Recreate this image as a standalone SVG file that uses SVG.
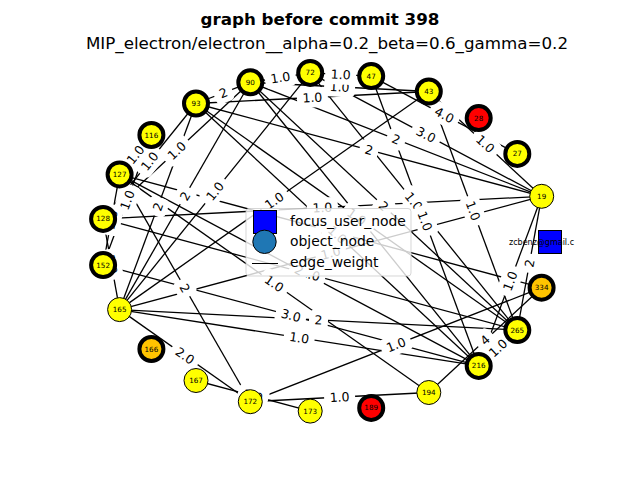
<svg xmlns="http://www.w3.org/2000/svg" xmlns:xlink="http://www.w3.org/1999/xlink" width="640" height="480" viewBox="0 0 640 480">
<style>
  .ttl { font-family: "DejaVu Sans", sans-serif; font-size: 16.7px; text-anchor: middle; fill: #000; }
  .e line { stroke: #000; stroke-width: 1.3; }
  .el text { font-family: "DejaVu Sans", sans-serif; font-size: 12.5px; text-anchor: middle; fill: #000; }
  .nd circle { stroke: #000; }
  .thick circle { stroke-width: 4; }
  .thin circle { stroke-width: 1; }
  .nd text { font-family: "DejaVu Sans", sans-serif; font-size: 7.2px; text-anchor: middle; fill: #000; }
  .y circle { fill: #ffff00; }
  .o circle { fill: #ffc400; }
  .r circle { fill: #ff0000; }
  .lg text { font-family: "DejaVu Sans", sans-serif; font-size: 13.9px; fill: #000; }
</style>
<defs>
  <rect id="b3" x="-15.5" y="-10" width="31" height="20" rx="5" fill="#fff"/>
  <rect id="b1" x="-9.5" y="-10" width="19" height="20" rx="5" fill="#fff"/>
  <clipPath id="axclip"><rect x="80" y="57.6" width="496" height="369.6"/></clipPath>
</defs>
<rect width="640" height="480" fill="#fff"/>

<text class="ttl" x="320" y="25" font-weight="bold">graph before commit 398</text>
<text class="ttl" x="327" y="49">MIP_electron/electron__alpha=0.2_beta=0.6_gamma=0.2</text>

<!-- edges -->
<g id="connectors" class="e">
  <line x1="250.3" y1="82.3" x2="310.2" y2="72.9"/>
  <line x1="310.2" y1="72.9" x2="371.2" y2="76.1"/>
  <line x1="250.3" y1="82.3" x2="428.8" y2="91.5"/>
  <line x1="196" y1="103.5" x2="428.8" y2="91.5"/>
  <line x1="196" y1="103.5" x2="250.3" y2="82.3"/>
  <line x1="371.2" y1="76.1" x2="517.3" y2="153.9"/>
  <line x1="310.2" y1="72.9" x2="541.7" y2="196.3"/>
  <line x1="428.8" y1="91.5" x2="541.7" y2="196.3"/>
  <line x1="196" y1="103.5" x2="541.7" y2="196.3"/>
  <line x1="250.3" y1="82.3" x2="541.7" y2="196.3"/>
  <line x1="310.2" y1="72.9" x2="517.3" y2="330.1"/>
  <line x1="371.2" y1="76.1" x2="478.7" y2="365.9"/>
  <line x1="428.8" y1="91.5" x2="517.3" y2="330.1"/>
  <line x1="428.8" y1="91.5" x2="119.6" y2="309.6"/>
  <line x1="310.2" y1="72.9" x2="119.6" y2="309.6"/>
  <line x1="250.3" y1="82.3" x2="103.1" y2="218.9"/>
  <line x1="151.4" y1="135" x2="119.6" y2="174.4"/>
  <line x1="196" y1="103.5" x2="103.1" y2="218.9"/>
  <line x1="196" y1="103.5" x2="119.6" y2="309.6"/>
  <line x1="250.3" y1="82.3" x2="119.6" y2="309.6"/>
  <line x1="151.4" y1="135" x2="103.1" y2="265.1"/>
  <line x1="119.6" y1="174.4" x2="103.1" y2="265.1"/>
  <line x1="103.1" y1="218.9" x2="119.6" y2="309.6"/>
  <line x1="103.1" y1="218.9" x2="541.7" y2="196.3"/>
  <line x1="103.1" y1="218.9" x2="517.3" y2="330.1"/>
  <line x1="250.3" y1="82.3" x2="517.3" y2="330.1"/>
  <line x1="119.6" y1="174.4" x2="541.6" y2="287.7"/>
  <line x1="250.3" y1="82.3" x2="478.7" y2="365.9"/>
  <line x1="119.6" y1="309.6" x2="541.7" y2="196.3"/>
  <line x1="119.6" y1="174.4" x2="428.8" y2="392.5"/>
  <line x1="103.1" y1="265.1" x2="478.7" y2="365.9"/>
  <line x1="119.6" y1="309.6" x2="517.3" y2="330.1"/>
  <line x1="119.6" y1="309.6" x2="478.7" y2="365.9"/>
  <line x1="250.3" y1="401.7" x2="541.6" y2="287.7"/>
  <line x1="119.6" y1="309.6" x2="250.3" y2="401.7"/>
  <line x1="250.3" y1="401.7" x2="428.8" y2="392.5"/>
  <line x1="541.7" y1="196.3" x2="478.7" y2="365.9"/>
  <line x1="541.7" y1="196.3" x2="517.3" y2="330.1"/>
  <line x1="541.6" y1="287.7" x2="428.8" y2="392.5"/>
  <line x1="517.3" y1="330.1" x2="478.7" y2="365.9"/>
  <line x1="119.6" y1="174.4" x2="250.3" y2="401.7"/>
  <line x1="119.6" y1="174.4" x2="478.7" y2="365.9"/>
  <line x1="196" y1="380.5" x2="310.2" y2="411.1"/>
  <line x1="196" y1="103.5" x2="517.3" y2="330.1"/>
  <line x1="196" y1="103.5" x2="478.7" y2="365.9"/>
</g>

<!-- edge weight labels, each on a white rounded box -->
<g id="edge-labels" class="el">
  <g transform="translate(280.3 77.6) rotate(-8.9)"><use href="#b3"/><text y="4.5">1.0</text></g>
  <g transform="translate(339.6 86.9) rotate(2.95)"><use href="#b3"/><text y="4.5">1.0</text></g>
  <g transform="translate(340.7 74.5) rotate(3)"><use href="#b3"/><text y="4.5">1.0</text></g>
  <g transform="translate(312.4 97.5) rotate(-2.95)"><use href="#b3"/><text y="4.5">1.0</text></g>
  <g transform="translate(223.2 92.9) rotate(-21.3)"><use href="#b1"/><text y="4.5">2</text></g>
  <g transform="translate(444.3 115) rotate(28)"><use href="#b3"/><text y="4.5">4.0</text></g>
  <g transform="translate(426 134.6) rotate(28.1)"><use href="#b3"/><text y="4.5">3.0</text></g>
  <g transform="translate(485.3 143.9) rotate(42.9)"><use href="#b3"/><text y="4.5">1.0</text></g>
  <g transform="translate(368.9 149.9) rotate(15)"><use href="#b1"/><text y="4.5">2</text></g>
  <g transform="translate(396 139.3) rotate(21.4)"><use href="#b1"/><text y="4.5">2</text></g>
  <g transform="translate(413.8 201.5) rotate(51.2)"><use href="#b3"/><text y="4.5">1.0</text></g>
  <g transform="translate(425 221) rotate(69.6)"><use href="#b3"/><text y="4.5">1.0</text></g>
  <g transform="translate(473.1 210.8) rotate(69.6)"><use href="#b3"/><text y="4.5">1.0</text></g>
  <g transform="translate(274.2 200.6) rotate(-35.2)"><use href="#b3"/><text y="4.5">1.0</text></g>
  <g transform="translate(214.9 191.3) rotate(-51.2)"><use href="#b3"/><text y="4.5">1.0</text></g>
  <g transform="translate(176.7 150.6) rotate(-42.9)"><use href="#b3"/><text y="4.5">1.0</text></g>
  <g transform="translate(135.5 154.7) rotate(-51.1)"><use href="#b3"/><text y="4.5">1.0</text></g>
  <g transform="translate(149.6 161.2) rotate(-51.2)"><use href="#b3"/><text y="4.5">1.0</text></g>
  <g transform="translate(157.8 206.6) rotate(-69.7)"><use href="#b1"/><text y="4.5">2</text></g>
  <g transform="translate(185 196) rotate(-60.1)"><use href="#b1"/><text y="4.5">2</text></g>
  <g transform="translate(127.3 200.1) rotate(-69.6)"><use href="#b3"/><text y="4.5">1.0</text></g>
  <g transform="translate(111.4 219.8) rotate(-79.7)"><use href="#b3"/><text y="4.5">1.0</text></g>
  <g transform="translate(111.4 264.3) rotate(79.7)"><use href="#b3"/><text y="4.5">1.0</text></g>
  <g transform="translate(322.4 207.6) rotate(-2.95)"><use href="#b3"/><text y="4.5">1.0</text></g>
  <g transform="translate(310.2 274.5) rotate(15)"><use href="#b3"/><text y="4.5">1.0</text></g>
  <g transform="translate(383.8 206.2) rotate(42.9)"><use href="#b1"/><text y="4.5">2</text></g>
  <g transform="translate(330.6 231.1) rotate(15)"><use href="#b3"/><text y="4.5">1.0</text></g>
  <g transform="translate(364.5 224.1) rotate(51.2)"><use href="#b1"/><text y="4.5">2</text></g>
  <g transform="translate(330.7 253) rotate(-15)"><use href="#b3"/><text y="4.5">1.0</text></g>
  <g transform="translate(274.2 283.5) rotate(35.2)"><use href="#b3"/><text y="4.5">1.0</text></g>
  <g transform="translate(290.9 315.5) rotate(15)"><use href="#b3"/><text y="4.5">3.0</text></g>
  <g transform="translate(318.5 319.9) rotate(2.95)"><use href="#b1"/><text y="4.5">2</text></g>
  <g transform="translate(299.2 337.8) rotate(8.9)"><use href="#b3"/><text y="4.5">1.0</text></g>
  <g transform="translate(396 344.7) rotate(-21.4)"><use href="#b3"/><text y="4.5">1.0</text></g>
  <g transform="translate(185 355.7) rotate(35.2)"><use href="#b3"/><text y="4.5">2.0</text></g>
  <g transform="translate(339.6 397.1) rotate(-2.95)"><use href="#b3"/><text y="4.5">1.0</text></g>
  <g transform="translate(510.2 281.1) rotate(-69.6)"><use href="#b3"/><text y="4.5">1.0</text></g>
  <g transform="translate(529.5 263.2) rotate(-79.7)"><use href="#b1"/><text y="4.5">2</text></g>
  <g transform="translate(485.2 340.1) rotate(-42.9)"><use href="#b1"/><text y="4.5">4</text></g>
  <g transform="translate(498 348) rotate(-42.8)"><use href="#b3"/><text y="4.5">1.0</text></g>
  <g transform="translate(185 288.1) rotate(60.1)"><use href="#b1"/><text y="4.5">2</text></g>
  <g transform="translate(299.2 270.2) rotate(28.1)"><use href="#b1"/><text y="4.5">2</text></g>
  <g transform="translate(253.1 395.8) rotate(15)"><use href="#b3"/><text y="4.5">1.0</text></g>
  <g transform="translate(356.7 216.8) rotate(35.2)"><use href="#b3"/><text y="4.5">1.0</text></g>
  <g transform="translate(337.4 234.7) rotate(42.9)"><use href="#b3"/><text y="4.5">1.0</text></g>
</g>

<!-- nodes -->
<g id="n-zcbenz" class="nd">
  <rect x="538.5" y="230.5" width="23" height="23" fill="#0000ff" stroke="#000" stroke-width="1"/>
  <text x="509" y="245" clip-path="url(#axclip)" style="text-anchor:start;font-size:8px">zcbenz@gmail.c</text>
</g>
<g id="n-19" class="nd thin y"><circle cx="541.7" cy="196.3" r="12"/><text x="541.7" y="198.8">19</text></g>
<g id="n-27" class="nd thick y"><circle cx="517.3" cy="153.9" r="12"/><text x="517.3" y="156.4">27</text></g>
<g id="n-28" class="nd thick r"><circle cx="478.7" cy="118.1" r="12"/><text x="478.7" y="120.6">28</text></g>
<g id="n-43" class="nd thick y"><circle cx="428.8" cy="91.5" r="12"/><text x="428.8" y="94">43</text></g>
<g id="n-47" class="nd thick y"><circle cx="371.2" cy="76.1" r="12"/><text x="371.2" y="78.6">47</text></g>
<g id="n-72" class="nd thick y"><circle cx="310.2" cy="72.9" r="12"/><text x="310.2" y="75.4">72</text></g>
<g id="n-90" class="nd thick y"><circle cx="250.3" cy="82.3" r="12"/><text x="250.3" y="84.8">90</text></g>
<g id="n-93" class="nd thick y"><circle cx="196" cy="103.5" r="12"/><text x="196" y="106">93</text></g>
<g id="n-116" class="nd thick y"><circle cx="151.4" cy="135" r="12"/><text x="151.4" y="137.5">116</text></g>
<g id="n-127" class="nd thick y"><circle cx="119.6" cy="174.4" r="12"/><text x="119.6" y="176.9">127</text></g>
<g id="n-128" class="nd thick y"><circle cx="103.1" cy="218.9" r="12"/><text x="103.1" y="221.4">128</text></g>
<g id="n-152" class="nd thick y"><circle cx="103.1" cy="265.1" r="12"/><text x="103.1" y="267.6">152</text></g>
<g id="n-165" class="nd thin y"><circle cx="119.6" cy="309.6" r="12"/><text x="119.6" y="312.1">165</text></g>
<g id="n-166" class="nd thick o"><circle cx="151.4" cy="349" r="12"/><text x="151.4" y="351.5">166</text></g>
<g id="n-167" class="nd thin y"><circle cx="196" cy="380.5" r="12"/><text x="196" y="383">167</text></g>
<g id="n-172" class="nd thin y"><circle cx="250.3" cy="401.7" r="12"/><text x="250.3" y="404.2">172</text></g>
<g id="n-173" class="nd thin y"><circle cx="310.2" cy="411.1" r="12"/><text x="310.2" y="413.6">173</text></g>
<g id="n-189" class="nd thick r"><circle cx="371.2" cy="407.9" r="12"/><text x="371.2" y="410.4">189</text></g>
<g id="n-194" class="nd thin y"><circle cx="428.8" cy="392.5" r="12"/><text x="428.8" y="395">194</text></g>
<g id="n-216" class="nd thick y"><circle cx="478.7" cy="365.9" r="12"/><text x="478.7" y="368.4">216</text></g>
<g id="n-265" class="nd thick y"><circle cx="517.3" cy="330.1" r="12"/><text x="517.3" y="332.6">265</text></g>
<g id="n-334" class="nd thick o"><circle cx="541.6" cy="287.7" r="12"/><text x="541.6" y="290.2">334</text></g>

<!-- legend -->
<g id="legend" class="lg">
  <rect x="246" y="208.5" width="165" height="67.5" rx="3" fill="#fff" fill-opacity="0.8" stroke="#cccccc" stroke-opacity="0.8"/>
  <rect x="253.5" y="210.5" width="23" height="23" fill="#0000ff" stroke="#000" stroke-width="1"/>
  <circle cx="264.5" cy="241.8" r="11.7" fill="#1f77b4" stroke="#000" stroke-width="1"/>
  <line x1="252" y1="263.5" x2="278" y2="263.5" stroke="#000" stroke-width="1"/>
  <text x="290" y="225.5">focus_user_node</text>
  <text x="290" y="246">object_node</text>
  <text x="290" y="267">edge_weight</text>
</g>
</svg>
